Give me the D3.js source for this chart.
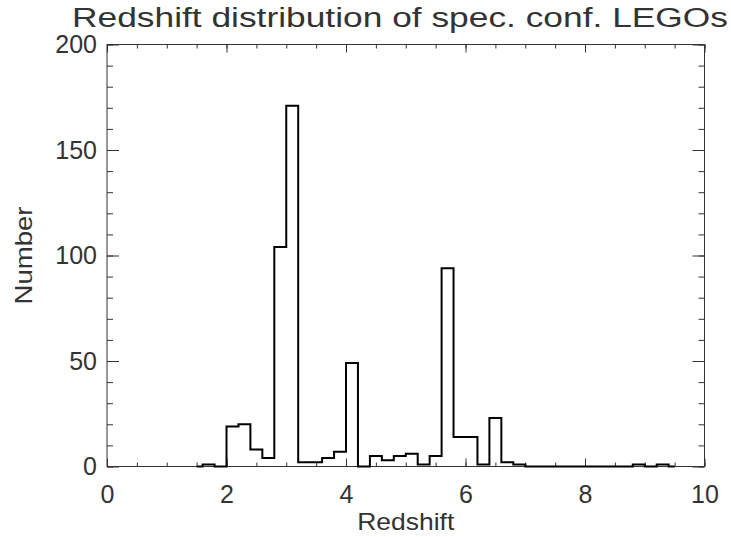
<!DOCTYPE html>
<html>
<head>
<meta charset="utf-8">
<script src="https://cdn.jsdelivr.net/npm/d3@7"></script>
<style>
	body { margin: 0; background: #fff; }
	text { font-family: "Liberation Sans", "DejaVu Sans", sans-serif; fill: #333; }
</style>
</head>
<body>
<div class="chart"></div>
<script>

// bin centres (step 0.2) and counts
var binCenters = [1.5, 1.7, 1.9, 2.1, 2.3, 2.5, 2.7, 2.9, 3.1, 3.3,
	3.5, 3.7, 3.9, 4.1, 4.3, 4.5, 4.7, 4.9, 5.1, 5.3,
	5.5, 5.7, 5.9, 6.1, 6.3, 6.5, 6.7, 6.9, 7.1, 7.3,
	7.5, 7.7, 7.9, 8.1, 8.3, 8.5, 8.7, 8.9, 9.1, 9.3, 9.5];
var counts = [0, 1, 0, 19, 20, 8, 4, 104, 171, 2,
	2, 4, 7, 49, 0, 5, 3, 5, 6, 1,
	5, 94, 14, 14, 1, 23, 2, 1, 0, 0,
	0, 0, 0, 0, 0, 0, 0, 1, 0, 1, 0];

var xTicks = [0, 2, 4, 6, 8, 10];
var yTicks = [0, 50, 100, 150, 200];

var title = "Redshift distribution of spec. conf. LEGOs";
var xTitle = "Redshift";
var yTitle = "Number";

var width = 731, height = 537;
var plot = { left: 107, top: 44.5, right: 704.5, bottom: 466.5 };

var svg = d3.select(".chart")
	.append("svg")
	.attr("width", width)
	.attr("height", height);

var x = d3.scaleLinear().domain([0, 10]).range([plot.left, plot.right]);
var y = d3.scaleLinear().domain([0, 200]).range([plot.bottom, plot.top]);

var data = binCenters.map(function(d, i){
	return { z: d, n: counts[i] };
});

var frame = svg.append("g").attr("class", "frame");

function styleAxis(g){
	g.select(".domain").remove();
	g.selectAll("line").attr("stroke", "#333").attr("stroke-width", 1);
	g.selectAll("text").attr("font-size", 25).attr("fill", "#333");
}

// minor ticks
frame.append("g")
	.attr("transform", "translate(0," + plot.bottom + ")")
	.call(d3.axisBottom(x).tickValues(d3.range(0, 10.01, 0.5)).tickSize(-4).tickFormat(""))
	.call(styleAxis);
frame.append("g")
	.attr("transform", "translate(0," + plot.top + ")")
	.call(d3.axisTop(x).tickValues(d3.range(0, 10.01, 0.5)).tickSize(-4).tickFormat(""))
	.call(styleAxis);
frame.append("g")
	.attr("transform", "translate(" + plot.left + ",0)")
	.call(d3.axisLeft(y).tickValues(d3.range(0, 201, 10)).tickSize(-6).tickFormat(""))
	.call(styleAxis);
frame.append("g")
	.attr("transform", "translate(" + plot.right + ",0)")
	.call(d3.axisRight(y).tickValues(d3.range(0, 201, 10)).tickSize(-6).tickFormat(""))
	.call(styleAxis);

// major ticks + labels
frame.append("g")
	.attr("transform", "translate(0," + plot.bottom + ")")
	.call(d3.axisBottom(x).tickValues(xTicks).tickSize(-8).tickPadding(19).tickFormat(d3.format("d")))
	.call(styleAxis);
frame.append("g")
	.attr("transform", "translate(0," + plot.top + ")")
	.call(d3.axisTop(x).tickValues(xTicks).tickSize(-8).tickFormat(""))
	.call(styleAxis);
frame.append("g")
	.attr("transform", "translate(" + plot.left + ",0)")
	.call(d3.axisLeft(y).tickValues(yTicks).tickSize(-12).tickPadding(10).tickFormat(d3.format("d")))
	.call(styleAxis);
frame.append("g")
	.attr("transform", "translate(" + plot.right + ",0)")
	.call(d3.axisRight(y).tickValues(yTicks).tickSize(-12).tickFormat(""))
	.call(styleAxis);

// box
frame.append("rect")
	.attr("x", plot.left)
	.attr("y", plot.top)
	.attr("width", plot.right - plot.left)
	.attr("height", plot.bottom - plot.top)
	.attr("fill", "none")
	.attr("stroke", "#333")
	.attr("stroke-width", 1);

// histogram, steps half way between centres
var line = d3.line()
	.x(function(d){ return x(d.z); })
	.y(function(d){ return y(d.n); })
	.curve(d3.curveStep);

svg.append("path")
	.datum(data)
	.attr("d", line)
	.attr("fill", "none")
	.attr("stroke", "#000")
	.attr("stroke-width", 2);

// titles
svg.append("text")
	.attr("x", 72)
	.attr("y", 27)
	.attr("font-size", 27)
	.attr("textLength", 656)
	.attr("lengthAdjust", "spacingAndGlyphs")
	.text(title);

svg.append("text")
	.attr("x", x(5))
	.attr("y", 530)
	.attr("text-anchor", "middle")
	.attr("font-size", 24)
	.attr("textLength", 97)
	.attr("lengthAdjust", "spacingAndGlyphs")
	.text(xTitle);

svg.append("text")
	.attr("transform", "translate(32," + y(100) + ") rotate(-90)")
	.attr("text-anchor", "middle")
	.attr("font-size", 24)
	.attr("textLength", 98)
	.attr("lengthAdjust", "spacingAndGlyphs")
	.text(yTitle);

</script>
</body>
</html>
